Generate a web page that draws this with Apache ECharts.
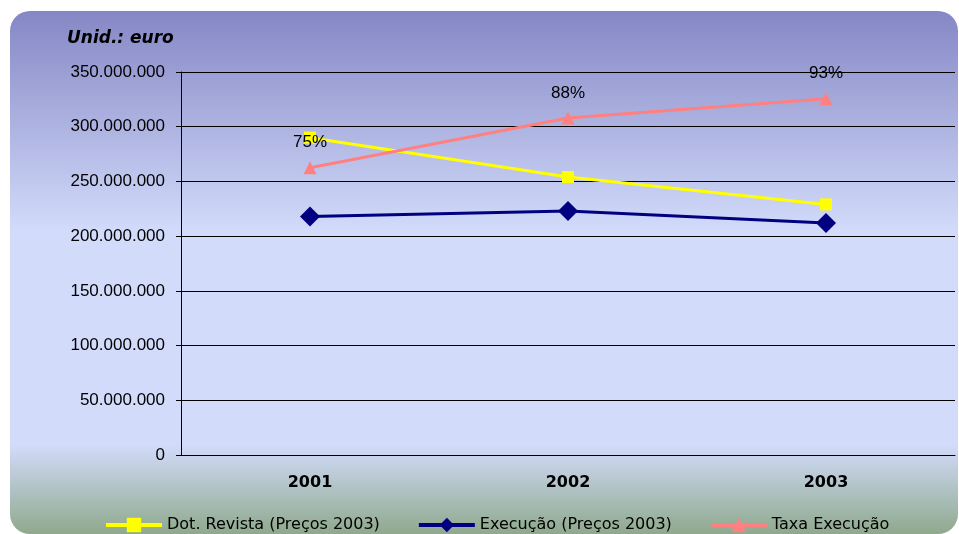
<!DOCTYPE html>
<html>
<head>
<meta charset="utf-8">
<script src="https://cdn.jsdelivr.net/npm/echarts@6/dist/echarts.min.js"></script>
<style>
  html, body { margin: 0; padding: 0; background: #fff; }
  #chart { width: 959px; height: 534px; }
</style>
</head>
<body>
<div id="chart"></div>
<script>
var anos = ['2001', '2002', '2003'];
var dotRevista = [290000000, 254000000, 229000000];
var execucao = [218000000, 223000000, 212000000];
var taxaExecucao = [0.75, 0.88, 0.93];

function fmtPt(v) {
  return String(v).replace(/\B(?=(\d{3})+(?!\d))/g, '.');
}

var chart = echarts.init(document.getElementById('chart'));
chart.setOption({
  animation: false,
  textStyle: { fontFamily: 'Liberation Sans, Arial, sans-serif' },
  graphic: [
    {
      type: 'rect', z: -10, silent: true,
      shape: { x: 10, y: 11, width: 948, height: 523, r: 20 },
      style: {
        fill: new echarts.graphic.LinearGradient(0, 0, 0, 1, [
          { offset: 0, color: '#8587c5' },
          { offset: 0.42, color: '#d2dbfa' },
          { offset: 0.83, color: '#d2dbfa' },
          { offset: 1, color: '#8fa98d' }
        ])
      }
    },
    {
      type: 'text', left: 67, top: 30,
      style: { text: 'Unid.: euro', font: 'italic bold 17px DejaVu Sans, sans-serif', fill: '#000' }
    }
  ],
  grid: { left: 181, right: 4, top: 72, bottom: 79, containLabel: false },
  legend: {
    top: 512, left: 99,
    itemWidth: 56, itemHeight: 18, itemGap: 37,
    lineStyle: { width: 4 },
    textStyle: { fontSize: 16, color: '#000', fontFamily: 'DejaVu Sans, sans-serif' },
    data: ['Dot. Revista (Preços 2003)', 'Execução (Preços 2003)', 'Taxa Execução']
  },
  xAxis: {
    type: 'category',
    data: anos,
    axisLine: { lineStyle: { color: '#000', width: 1 } },
    axisTick: { show: false },
    axisLabel: { fontSize: 16, fontWeight: 'bold', color: '#000', margin: 20, fontFamily: 'DejaVu Sans, sans-serif' }
  },
  yAxis: [
    {
      type: 'value', min: 0, max: 350000000, interval: 50000000,
      axisLine: { show: true, lineStyle: { color: '#000' } },
      axisTick: { show: true, length: 5, lineStyle: { color: '#000' } },
      splitLine: { lineStyle: { color: '#000', width: 1 } },
      axisLabel: { fontSize: 17, color: '#000', margin: 16, formatter: fmtPt }
    },
    { type: 'value', min: 0, max: 1, show: false, splitLine: { show: false } }
  ],
  series: [
    {
      name: 'Dot. Revista (Preços 2003)', type: 'line', data: dotRevista,
      symbol: 'rect', symbolSize: 12,
      lineStyle: { color: '#ffff00', width: 3 },
      itemStyle: { color: '#ffff00' }
    },
    {
      name: 'Execução (Preços 2003)', type: 'line', data: execucao,
      symbol: 'diamond', symbolSize: 20,
      lineStyle: { color: '#000080', width: 3 },
      itemStyle: { color: '#000080' }
    },
    {
      name: 'Taxa Execução', type: 'line', data: taxaExecucao, yAxisIndex: 1,
      symbol: 'triangle', symbolSize: 13,
      lineStyle: { color: '#ff8080', width: 3 },
      itemStyle: { color: '#ff8080' },
      label: {
        show: true, position: 'top', distance: 10,
        fontSize: 17, color: '#000',
        formatter: function (p) { return Math.round(p.value * 100) + '%'; }
      }
    }
  ]
});
</script>
</body>
</html>
